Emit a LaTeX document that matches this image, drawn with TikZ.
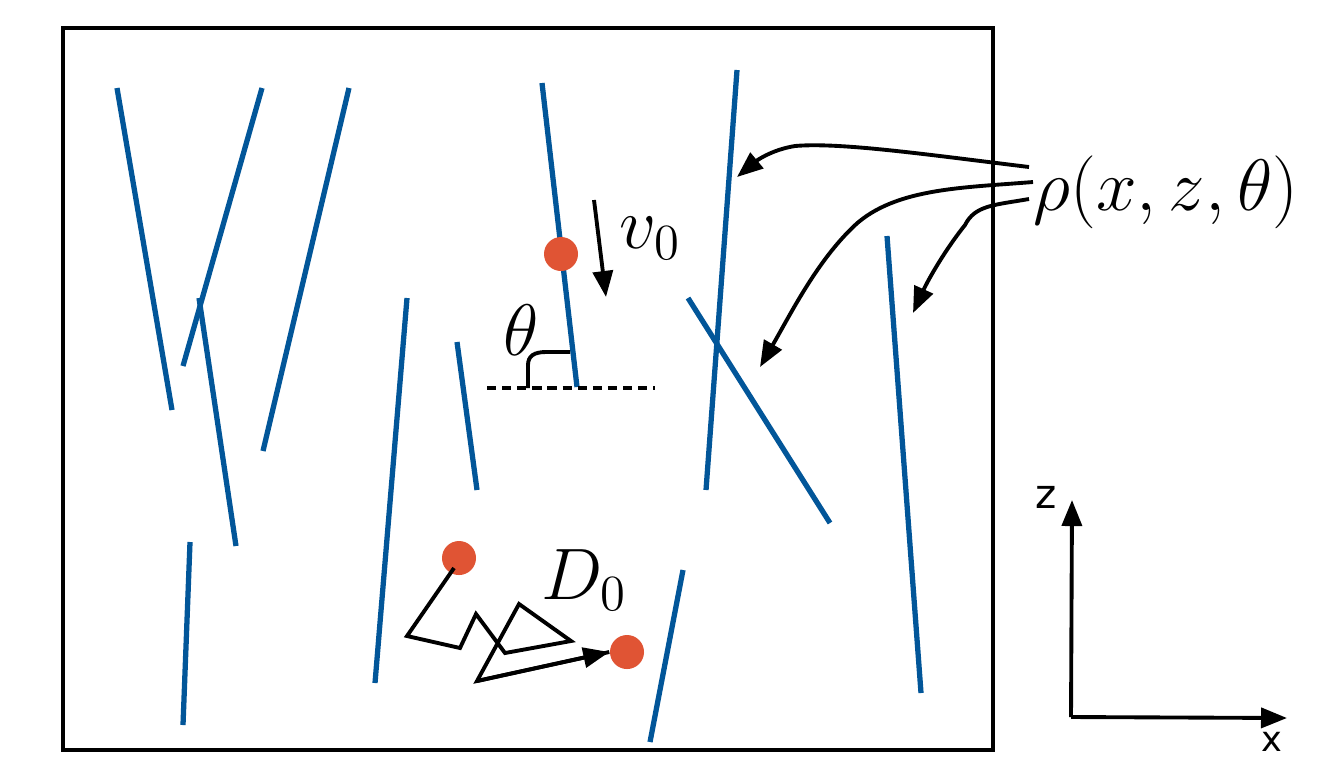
\documentclass[tikz,border=0pt]{standalone}
\usepackage{fontspec}
\newfontfamily\axisfont{DejaVu Sans}
\usetikzlibrary{arrows.meta}
\definecolor{rodblue}{RGB}{2,86,153}
\definecolor{dotred}{RGB}{224,84,52}
\tikzset{
  rod/.style={draw=rodblue, line width=1.5pt},
  particle/.style={circle, fill=dotred, inner sep=0pt, minimum size=0.34cm},
  pointer/.style={line width=1.1pt, -{Triangle[length=0.26cm, width=0.2cm]}},
  mathlabel/.style={inner sep=0pt, font=\fontsize{20.5}{24}\selectfont},
  axislabel/.style={inner sep=0pt, font=\axisfont\fontsize{11.5}{13}\selectfont},
}
\begin{document}
\begin{tikzpicture}[x=0.01cm, y=-0.01cm]
\useasboundingbox (0,0) rectangle (1322,757);

% container
\draw[line width=1.1pt] (63,28) rectangle (993,750);

% rods
\draw[rod] (117,88) -- (172,410);
\draw[rod] (262,88) -- (183,366);
\draw[rod] (349,88) -- (263,451);
\draw[rod] (199,298) -- (236,546);
\draw[rod] (190,542) -- (183,725);
\draw[rod] (407,298) -- (375,683);
\draw[rod] (457,342) -- (477,490);
\draw[rod] (542,83) -- (577,387);
\draw[rod] (737,70) -- (706,490);
\draw[rod] (688,298) -- (830,523);
\draw[rod] (887,236) -- (921,693);
\draw[rod] (683,570) -- (650,742);

% swimmer on a rod
\node[particle] (swimmer) at (561,254) {};
\coordinate (vtail) at (594,200);
\coordinate (vhead) at (606,297);
\draw[pointer] (vtail) -- (vhead);
\node[mathlabel] (vlabel) at (650,238) {$v_0$};

% orientation angle
\draw[line width=1.1pt, dash pattern=on 2.6pt off 1.7pt] (487,388) -- (655,388);
\draw[line width=1.1pt] (528,388) -- (528,365) .. controls (528,356) and (534,352) .. (546,352) -- (570,352);
\node[mathlabel] (thlabel) at (521,330) {$\theta$};

% diffusive particle path
\node[particle] (start) at (459,558) {};
\node[particle] (finish) at (627,652) {};
\coordinate (w1) at (407,636);
\coordinate (w2) at (460,648);
\coordinate (w3) at (476,614);
\coordinate (w4) at (505,653);
\coordinate (w5) at (571,641);
\coordinate (w6) at (519,604);
\coordinate (w7) at (477,681);
\draw[line width=1.1pt, line join=miter] (start.center) ++(-5,10) -- (w1) -- (w2) -- (w3) -- (w4) -- (w5) -- (w6) -- (w7) -- (finish.west);
\draw[pointer] (w7) -- (finish.west);
\node[mathlabel] (dlabel) at (584,580) {$D_0$};

% density label and its pointers
\node[mathlabel, anchor=west] (rho) at (1033,192) {$\rho(x,z,\theta)$};
\coordinate (r1) at (1029,167);
\coordinate (r2) at (1033,182);
\coordinate (r3) at (1029,199);
\coordinate (t1) at (737,177);
\coordinate (t2) at (760,367);
\coordinate (t3) at (913,313);
\draw[pointer] (r1) .. controls (930,155) and (840,142) .. (795,146) .. controls (770,150) and (755,162) .. (t1);
\draw[pointer] (r2) .. controls (960,188) and (890,188) .. (850,230) .. controls (815,265) and (790,315) .. (t2);
\draw[pointer] (r3) .. controls (995,205) and (975,205) .. (965,225) .. controls (945,250) and (928,280) .. (t3);

% axes
\coordinate (origin) at (1071,717);
\coordinate (zend) at (1072,500);
\coordinate (xend) at (1287,718);
\draw[pointer] (origin) -- (zend);
\draw[pointer] (origin) -- (xend);
\node[axislabel] (zlabel) at (1046,497) {z};
\node[axislabel, anchor=base, font=\axisfont\fontsize{10}{12}\selectfont] (xlabel) at (1272,751) {x};
\end{tikzpicture}
\end{document}
